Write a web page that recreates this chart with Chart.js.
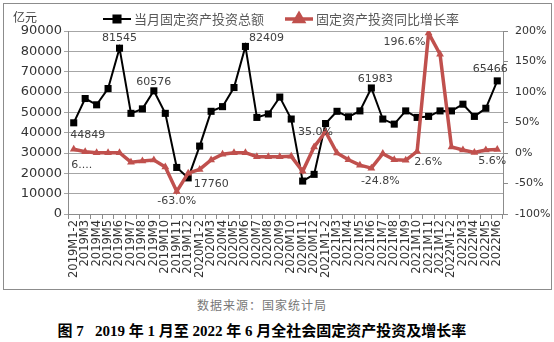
<!DOCTYPE html>
<html>
<head>
<meta charset="utf-8">
<script src="https://cdn.jsdelivr.net/npm/chart.js@4"></script>
<style>
    body { margin: 0; background: #fff; width: 554px; height: 342px; overflow: hidden; }
    #wrap { position: relative; width: 554px; height: 292px; }
    .source { position: absolute; top: 296px; left: 0; width: 524px; text-align: center;
        font: 12px "Noto Sans CJK SC", sans-serif; color: #777; letter-spacing: 1px; }
    .caption { position: absolute; top: 319px; left: 0; width: 524px; text-align: center;
        font: bold 15px "Liberation Serif", "Noto Sans CJK SC", serif; color: #000; }
</style>
</head>
<body>
<div id="wrap"><canvas id="chart" width="554" height="292"></canvas></div>
<div class="source">数据来源：国家统计局</div>
<div class="caption">图 7&nbsp;&nbsp;&nbsp;2019 年 1 月至 2022 年 6 月全社会固定资产投资及增长率</div>
<script>
// categories
const months = [
    '2019M1-2', '2019M3', '2019M4', '2019M5', '2019M6', '2019M7', '2019M8', '2019M9', '2019M10', '2019M11', '2019M12',
    '2020M1-2', '2020M3', '2020M4', '2020M5', '2020M6', '2020M7', '2020M8', '2020M9', '2020M10', '2020M11', '2020M12',
    '2021M1-2', '2021M3', '2021M4', '2021M5', '2021M6', '2021M7', '2021M8', '2021M9', '2021M10', '2021M11', '2021M12',
    '2022M1-2', '2022M3', '2022M4', '2022M5', '2022M6'
];

// 当月固定资产投资总额 (亿元)
const investment = [
    44849, 56800, 53700, 61700, 81545, 49500, 51700, 60576, 49500, 22900, 17760,
    33400, 50500, 52800, 62200, 82409, 47500, 49200, 57500, 46700, 16200, 19500,
    44500, 50500, 47800, 50700, 61983, 46700, 44200, 50700, 47500, 48000, 50700,
    50700, 54000, 48000, 52000, 65466
];

// 固定资产投资同比增长率 (%)
const growth = [
    6.1, 2, 0.5, 0.5, 0.5, -15, -13, -11.5, -23, -63.0, -33,
    -27, -11.5, -2, 0.5, 0.5, -6, -6, -6, -5.5, -30, 10,
    35.0, 0, -11, -20, -24.8, -1, -11, -12, 2.6, 196.6, 162,
    10, 5, 1, 5, 5.6
];

const leftTicks = { min: 0, max: 90000, step: 10000 };
const rightTicks = { min: -100, max: 200, step: 50 };

const seriesNames = ['当月固定资产投资总额', '固定资产投资同比增长率'];
const black = '#000000';
const red = '#c0504d';

// which points carry a value label, and where it sits relative to the point
const pointLabels = [
    { ds: 0, i: 0, dx: 14, dy: 12 },
    { ds: 0, i: 4, dx: 0, dy: -10 },
    { ds: 0, i: 7, dx: 0, dy: -9 },
    { ds: 0, i: 10, dx: 23, dy: 6 },
    { ds: 0, i: 15, dx: 21, dy: -8 },
    { ds: 0, i: 26, dx: 4, dy: -9 },
    { ds: 0, i: 37, dx: -7, dy: -12 },
    { ds: 1, i: 0, dx: 8, dy: 16, text: '6....' },
    { ds: 1, i: 9, dx: 0, dy: 10 },
    { ds: 1, i: 22, dx: -10, dy: 0 },
    { ds: 1, i: 26, dx: 9, dy: 13 },
    { ds: 1, i: 30, dx: 11, dy: 11 },
    { ds: 1, i: 31, dx: -24, dy: 9 },
    { ds: 1, i: 37, dx: -5, dy: 12 }
];

const decorations = {
    id: 'decorations',
    beforeDraw(chart) {
        const ctx = chart.ctx;
        ctx.save();
        ctx.fillStyle = '#fff';
        ctx.fillRect(0, 0, chart.width, chart.height);
        ctx.strokeStyle = '#8c8c8c';
        ctx.lineWidth = 1;
        ctx.strokeRect(3.5, 3.5, 548, 286);
        ctx.restore();
    },
    afterDatasetsDraw(chart) {
        const ctx = chart.ctx;
        ctx.save();
        ctx.font = '11px "DejaVu Sans"';
        ctx.fillStyle = '#404040';
        ctx.textAlign = 'center';
        ctx.textBaseline = 'middle';
        pointLabels.forEach(l => {
            const pt = chart.getDatasetMeta(l.ds).data[l.i];
            const v = chart.data.datasets[l.ds].data[l.i];
            const text = l.text || (l.ds === 0 ? String(v) : v.toFixed(1) + '%');
            ctx.fillText(text, pt.x + l.dx, pt.y + l.dy);
        });

        // unit
        ctx.font = '12px "Noto Sans CJK SC"';
        ctx.fillStyle = '#404040';
        ctx.textAlign = 'left';
        ctx.fillText('亿元', 13, 17);

        // legend
        const items = [
            { x: 103, color: black, style: 'rect', radius: 5, width: 2 },
            { x: 285, color: red, style: 'triangle', radius: 5, width: 3.5 }
        ];
        items.forEach((it, k) => {
            const y = 19;
            ctx.strokeStyle = it.color;
            ctx.lineWidth = it.width;
            ctx.beginPath();
            ctx.moveTo(it.x, y);
            ctx.lineTo(it.x + 28, y);
            ctx.stroke();
            ctx.fillStyle = it.color;
            Chart.helpers.drawPoint(ctx, { pointStyle: it.style, radius: it.radius, borderWidth: 1 }, it.x + 14, y);
            ctx.fill();
            ctx.fillStyle = '#595959';
            ctx.font = '13px "Noto Sans CJK SC"';
            ctx.fillText(seriesNames[k], it.x + 31, y);
        });
        ctx.restore();
    }
};

new Chart(document.getElementById('chart'), {
    type: 'line',
    data: {
        labels: months,
        datasets: [{
            label: seriesNames[0],
            data: investment,
            yAxisID: 'y',
            borderColor: black,
            backgroundColor: black,
            borderWidth: 2,
            pointStyle: 'rect',
            pointRadius: 5,
            pointBorderWidth: 0,
            tension: 0
        }, {
            label: seriesNames[1],
            data: growth,
            yAxisID: 'y1',
            borderColor: red,
            backgroundColor: red,
            borderWidth: 3.5,
            pointStyle: 'triangle',
            pointRadius: 4.5,
            pointBorderWidth: 0,
            tension: 0,
            order: -1
        }]
    },
    options: {
        responsive: false,
        animation: false,
        devicePixelRatio: 1,
        layout: { padding: { top: 31, left: 0, right: 0, bottom: 0 } },
        plugins: {
            legend: { display: false },
            tooltip: { enabled: false }
        },
        scales: {
            x: {
                offset: true,
                afterFit: s => { s.height = 78; },
                grid: { drawOnChartArea: false, drawTicks: true, tickLength: 5, color: '#8c8c8c', offset: true },
                border: { color: '#8c8c8c' },
                ticks: {
                    autoSkip: false,
                    minRotation: 90,
                    maxRotation: 90,
                    padding: 1,
                    color: '#333',
                    font: { family: 'DejaVu Sans', size: 11.5 }
                }
            },
            y: {
                position: 'left',
                min: leftTicks.min,
                max: leftTicks.max,
                afterFit: s => { s.width = 68; },
                grid: { color: '#a6a6a6', tickLength: 4 },
                border: { color: '#8c8c8c' },
                ticks: {
                    stepSize: leftTicks.step,
                    padding: 2,
                    color: '#333',
                    font: { family: 'DejaVu Sans', size: 13 },
                    callback: v => String(v)
                }
            },
            y1: {
                position: 'right',
                min: rightTicks.min,
                max: rightTicks.max,
                afterFit: s => { s.width = 51; },
                grid: { drawOnChartArea: false, tickLength: 5, color: '#8c8c8c' },
                border: { color: '#8c8c8c' },
                ticks: {
                    stepSize: rightTicks.step,
                    padding: 7,
                    color: '#333',
                    font: { family: 'DejaVu Sans', size: 11 },
                    callback: v => v + '%'
                }
            }
        }
    },
    plugins: [decorations]
});
</script>
</body>
</html>
